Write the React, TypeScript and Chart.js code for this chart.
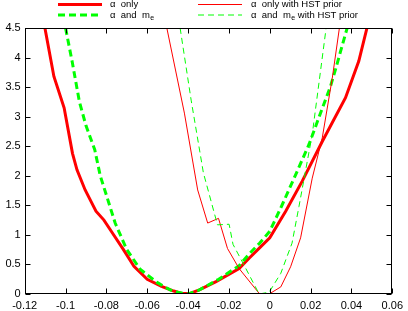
import { useEffect, useRef } from "react";
import { Chart, registerables } from "chart.js";

Chart.register(...registerables);

// ---- data ----
const xTickValues = [-0.12, -0.1, -0.08, -0.06, -0.04, -0.02, 0, 0.02, 0.04, 0.06];
const yTickValues = [0, 0.5, 1, 1.5, 2, 2.5, 3, 3.5, 4, 4.5];

const alphaOnlyX = [-0.1101, -0.1057, -0.1007, -0.0966, -0.0944, -0.0904, -0.0851, -0.0812, -0.0768, -0.0718, -0.0665, -0.06, -0.053, -0.047, -0.043, -0.039, -0.0345, -0.0263, -0.015, -0.01, -0.005, 0, 0.0078, 0.0159, 0.0257, 0.0371, 0.0436, 0.0476];
const alphaOnlyY = [4.5, 3.68, 3.15, 2.38, 2.1, 1.76, 1.4, 1.25, 1.02, 0.76, 0.47, 0.25, 0.13, 0.05, 0.01, 0.01, 0.07, 0.21, 0.43, 0.61, 0.78, 0.95, 1.4, 1.91, 2.58, 3.32, 3.94, 4.5];

const alphaMeX = [-0.1, -0.0967, -0.0932, -0.09, -0.0857, -0.083, -0.0798, -0.0757, -0.07, -0.0635, -0.0554, -0.0488, -0.044, -0.04, -0.035, -0.025, -0.015, -0.01, -0.005, 0, 0.0061, 0.0127, 0.0192, 0.024, 0.0298, 0.0322, 0.0379];
const alphaMeY = [4.5, 3.92, 3.25, 2.85, 2.44, 2.0, 1.65, 1.2, 0.75, 0.42, 0.2, 0.07, 0.02, 0, 0.06, 0.25, 0.48, 0.68, 0.86, 1.06, 1.51, 2.02, 2.53, 2.98, 3.52, 3.8, 4.5];

const alphaHstX = [-0.0504, -0.0418, -0.0353, -0.0304, -0.0251, -0.0207, -0.015, -0.0052, -0.0003, 0.0054, 0.0102, 0.0151, 0.0208, 0.0257, 0.0306, 0.0341];
const alphaHstY = [4.5, 3.06, 1.76, 1.2, 1.28, 0.77, 0.43, 0.01, 0, 0.12, 0.46, 0.95, 1.96, 2.64, 3.65, 4.5];

const alphaMeHstX = [-0.0439, -0.0385, -0.0325, -0.0256, -0.0199, -0.018, -0.0117, -0.0052, -0.0003, 0.0054, 0.0109, 0.0143, 0.0176, 0.0208, 0.0276];
const alphaMeHstY = [4.5, 3.28, 2.05, 1.17, 1.18, 0.84, 0.43, 0, 0.03, 0.35, 0.86, 1.48, 2.1, 2.7, 4.5];

const labelMain = ["α  only", "α  and  m", "α  only with HST prior", "α  and  m"];
const labelSub = ["", "e", "", "e"];
const labelTail = ["", "", "", " with HST prior"];

const toPts = (xs: number[], ys: number[]) => xs.map((x, i) => ({ x, y: ys[i] }));

const fmt = (v: number) => String(Number(v.toFixed(2)));

const FONT = "'Liberation Sans', Arial, sans-serif";

const framePlugin = {
  id: "frame",
  afterDraw(chart: any) {
    const { ctx, chartArea: a, scales } = chart;
    const xs = scales.x;
    const ys = scales.y;
    ctx.save();
    ctx.setLineDash([]);
    ctx.strokeStyle = "#000";
    ctx.lineWidth = 1;
    const L = Math.round(a.left) + 0.5;
    const R = Math.round(a.right) - 0.5;
    const T = Math.round(a.top) + 0.5;
    const B = Math.round(a.bottom) - 0.5;
    ctx.strokeRect(L, T, R - L, B - T);
    ctx.beginPath();
    for (const v of xTickValues) {
      const px = Math.round(xs.getPixelForValue(v)) + 0.5;
      ctx.moveTo(px, B);
      ctx.lineTo(px, B - 5);
      ctx.moveTo(px, T);
      ctx.lineTo(px, T + 5);
    }
    for (const v of yTickValues) {
      const py = Math.round(ys.getPixelForValue(v)) + 0.5;
      ctx.moveTo(L, py);
      ctx.lineTo(L + 5, py);
      ctx.moveTo(R, py);
      ctx.lineTo(R - 5, py);
    }
    ctx.stroke();

    // legend (two columns)
    const colSampleX = [58, 198];
    const sampleLen = 44;
    const colTextX = [110, 251];
    const rowY = [4.5, 15];
    chart.data.datasets.forEach((ds: any, i: number) => {
      const col = Math.floor(i / 2);
      const row = i % 2;
      const y = rowY[row];
      ctx.save();
      ctx.strokeStyle = ds.borderColor;
      ctx.lineWidth = ds.borderWidth;
      ctx.setLineDash(ds.borderDash || []);
      ctx.beginPath();
      ctx.moveTo(colSampleX[col], y);
      ctx.lineTo(colSampleX[col] + sampleLen, y);
      ctx.stroke();
      ctx.restore();
      ctx.fillStyle = "#000";
      ctx.textBaseline = "middle";
      ctx.textAlign = "left";
      ctx.font = `9.5px ${FONT}`;
      let x = colTextX[col];
      ctx.fillText(labelMain[i], x, y);
      x += ctx.measureText(labelMain[i]).width;
      if (labelSub[i]) {
        ctx.font = `7px ${FONT}`;
        ctx.fillText(labelSub[i], x + 0.5, y + 3);
        x += ctx.measureText(labelSub[i]).width + 0.5;
      }
      if (labelTail[i]) {
        ctx.font = `9.5px ${FONT}`;
        ctx.fillText(labelTail[i], x, y);
      }
    });
    ctx.restore();
  },
};

export default function App() {
  const ref = useRef<HTMLCanvasElement | null>(null);
  useEffect(() => {
    document.body.style.margin = "0";
    if (!ref.current) return;
    const chart = new Chart(ref.current, {
      type: "line",
      data: {
        datasets: [
          { label: "α only", data: toPts(alphaOnlyX, alphaOnlyY), borderColor: "#ff0000", borderWidth: 3, pointRadius: 0, tension: 0, fill: false, order: 4 },
          { label: "α and me", data: toPts(alphaMeX, alphaMeY), borderColor: "#00ff00", borderWidth: 3, borderDash: [7, 4], pointRadius: 0, tension: 0, fill: false, order: 3 },
          { label: "α only with HST prior", data: toPts(alphaHstX, alphaHstY), borderColor: "#ff0000", borderWidth: 1, pointRadius: 0, tension: 0, fill: false, order: 2 },
          { label: "α and me with HST prior", data: toPts(alphaMeHstX, alphaMeHstY), borderColor: "#00ff00", borderWidth: 1, borderDash: [6, 4], pointRadius: 0, tension: 0, fill: false, order: 1 },
        ] as any,
      },
      options: {
        animation: false,
        responsive: false,
        devicePixelRatio: 1,
        layout: { padding: { top: 28, right: 14, left: 0, bottom: 0 } },
        plugins: { legend: { display: false }, tooltip: { enabled: false } },
        scales: {
          x: {
            type: "linear",
            min: -0.12,
            max: 0.06,
            afterBuildTicks: (s: any) => { s.ticks = xTickValues.map((v) => ({ value: v })); },
            afterFit: (s: any) => { s.height = 17; },
            grid: { display: false, drawTicks: false },
            border: { display: false },
            ticks: { autoSkip: false, maxRotation: 0, padding: 5, color: "#000", font: { family: FONT, size: 11 }, callback: (v: any) => fmt(Number(v)) },
          },
          y: {
            type: "linear",
            min: 0,
            max: 4.5,
            afterBuildTicks: (s: any) => { s.ticks = yTickValues.map((v) => ({ value: v })); },
            afterFit: (s: any) => { s.width = 24.7; },
            grid: { display: false, drawTicks: false },
            border: { display: false },
            ticks: { autoSkip: false, padding: 4, color: "#000", font: { family: FONT, size: 11 }, callback: (v: any) => fmt(Number(v)) },
          },
        },
      },
      plugins: [framePlugin],
    } as any);
    return () => chart.destroy();
  }, []);
  return <canvas ref={ref} width={408} height={311} style={{ display: "block" }} />;
}
